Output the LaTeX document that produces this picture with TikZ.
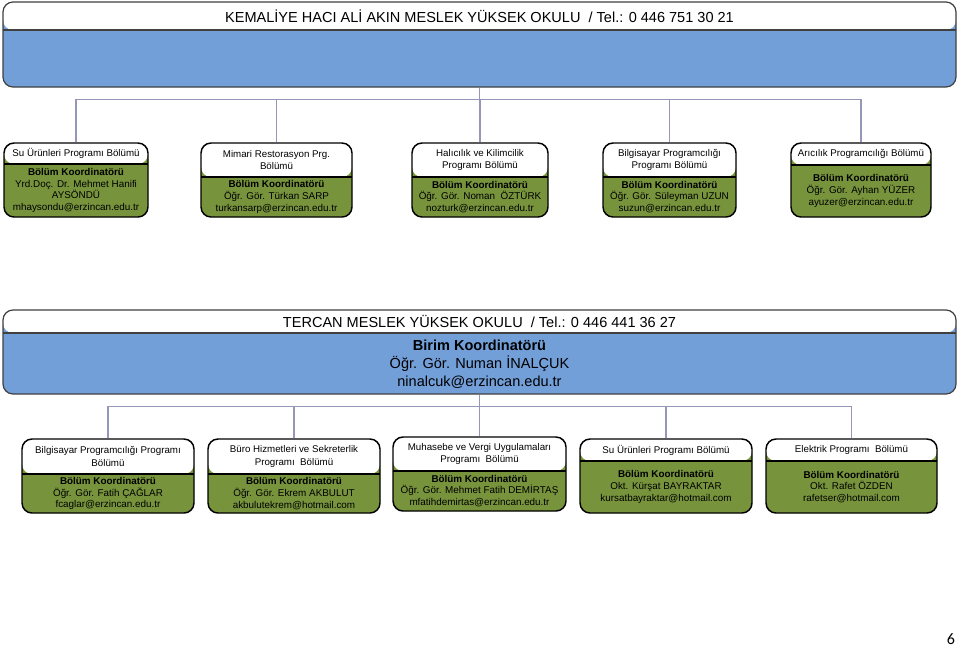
\documentclass[tikz,border=0pt]{standalone}
\usepackage{fontspec}
\setmainfont{Liberation Sans}
\newfontfamily\pagefont{Carlito}
\usetikzlibrary{fit, positioning}
\definecolor{unitblue}{RGB}{115,159,217}
\definecolor{progolive}{RGB}{119,147,60}
\definecolor{linkgray}{RGB}{150,150,185}

\tikzset{
  unit/.style={draw=black!75, line width=0.9pt, rounded corners=7.5pt, inner sep=0pt, fill=unitblue},
  prog/.style={draw=black, line width=1.1pt, rounded corners=7.5pt, inner sep=0pt, fill=progolive},
  headband/.style={path picture={
      \fill[white] (path picture bounding box.north west) rectangle ([yshift=-#1]path picture bounding box.north east);
      \draw[line width=0.8pt] ([yshift=-#1]path picture bounding box.north west) -- ([yshift=-#1]path picture bounding box.north east);}},
  unittext/.style={align=center, font=\fontsize{10.9}{13.5}\selectfont},
  headtext/.style={align=center, font=\fontsize{7.3}{9.6}\selectfont},
  bodytext/.style={align=center, font=\fontsize{7.4}{8.7}\selectfont},
  link/.style={draw=linkgray, line width=0.8pt},
}

% name, x1, y1, x2, y2, split, header, body
\newcommand\progbox[8]{%
  \node[prog, fit={(#2,#3) (#4,#5)}, headband={(#6-#3)*0.75pt}] (#1) {};
  \node[headtext] (#1h) at ({(#2+#4)/2},{(#3+#6)/2}) {#7};
  \node[bodytext] (#1b) at ({(#2+#4)/2},{(#6+#5)/2}) {#8};
}

\begin{document}
\begin{tikzpicture}[x=0.75pt, y=-0.75pt]
    \useasboundingbox[fill=white] (0,0) rectangle (960,647);

    % Kemaliye
    \node[unit, fit={(3,2) (956,87)}, headband={28*0.75pt}] (kem) {};
    \node[unittext] (kemh) at (479.5,16) {KEMALİYE HACI ALİ AKIN MESLEK YÜKSEK OKULU\ \ / Tel.: 0 446 751 30 21};

    \progbox{b1}{4}{143}{148}{217}{164}{Su Ürünleri Programı Bölümü}
      {\textbf{Bölüm Koordinatörü}\\Yrd.Doç. Dr. Mehmet Hanifi\\AYSÖNDÜ\\mhaysondu@erzincan.edu.tr}
    \progbox{b2}{201}{143}{352}{217}{177}{Mimari Restorasyon Prg.\\Bölümü}
      {\textbf{Bölüm Koordinatörü}\\Öğr. Gör. Türkan SARP\\turkansarp@erzincan.edu.tr}
    \progbox{b3}{412}{143}{548}{217}{177}{Halıcılık ve Kilimcilik\\Programı Bölümü}
      {\textbf{Bölüm Koordinatörü}\\Öğr. Gör. Noman\ \ ÖZTÜRK\\nozturk@erzincan.edu.tr}
    \progbox{b4}{603}{143}{736}{217}{177}{Bilgisayar Programcılığı\\Programı Bölümü}
      {\textbf{Bölüm Koordinatörü}\\Öğr. Gör. Süleyman UZUN\\suzun@erzincan.edu.tr}
    \progbox{b5}{791}{143}{931}{217}{165}{Arıcılık Programcılığı Bölümü}
      {\textbf{Bölüm Koordinatörü}\\Öğr. Gör. Ayhan YÜZER\\ayuzer@erzincan.edu.tr}

    \foreach \b in {b1,b2,b3,b4,b5}
      \draw[link] (kem.south) -- ++(0,12) -| (\b.north);

    % Tercan
    \node[unit, fit={(3,310) (956,394)}, headband={23*0.75pt}] (ter) {};
    \node[unittext] (terh) at (479.5,321.5) {TERCAN MESLEK YÜKSEK OKULU\ \ / Tel.: 0 446 441 36 27};
    \node[unittext] (terb) at (479.5,364) {\textbf{Birim Koordinatörü}\\Öğr. Gör. Numan İNALÇUK\\ninalcuk@erzincan.edu.tr};

    \progbox{c1}{22}{439}{194}{513}{474}{Bilgisayar Programcılığı Programı\\Bölümü}
      {\textbf{Bölüm Koordinatörü}\\Öğr. Gör. Fatih ÇAĞLAR\\fcaglar@erzincan.edu.tr}
    \progbox{c2}{208}{439}{380}{513}{474}{Büro Hizmetleri ve Sekreterlik\\Programı\ \ Bölümü}
      {\textbf{Bölüm Koordinatörü}\\Öğr. Gör. Ekrem AKBULUT\\akbulutekrem@hotmail.com}
    \progbox{c3}{393}{437}{566}{511}{471}{Muhasebe ve Vergi Uygulamaları\\Programı\ \ Bölümü}
      {\textbf{Bölüm Koordinatörü}\\Öğr. Gör. Mehmet Fatih DEMİRTAŞ\\mfatihdemirtas@erzincan.edu.tr}
    \progbox{c4}{580}{439}{752}{513}{461}{Su Ürünleri Programı Bölümü}
      {\textbf{Bölüm Koordinatörü}\\Okt. Kürşat BAYRAKTAR\\kursatbayraktar@hotmail.com}
    \progbox{c5}{766}{439}{937}{513}{461}{Elektrik Programı\ \ Bölümü}
      {\textbf{Bölüm Koordinatörü}\\Okt. Rafet ÖZDEN\\rafetser@hotmail.com}

    \foreach \c in {c1,c2,c3,c4,c5}
      \draw[link] (ter.south) -- ++(0,12) -| (\c.north);

    \node[font=\pagefont\fontsize{12}{14}\selectfont] (pagenum) at (951,639) {6};
\end{tikzpicture}
\end{document}
